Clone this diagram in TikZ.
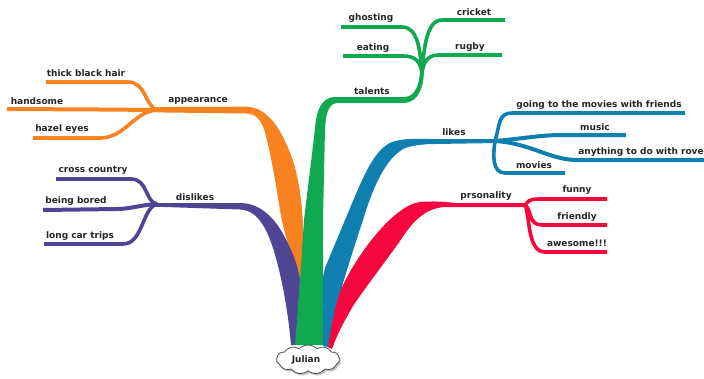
\documentclass[tikz,border=0pt]{standalone}
\usepackage{fontspec}
\setmainfont{DejaVu Sans}
\usetikzlibrary{shapes.symbols,shadows}
\definecolor{cOrange}{HTML}{F98220}
\definecolor{cPurple}{HTML}{4F4595}
\definecolor{cGreen}{HTML}{10A950}
\definecolor{cBlue}{HTML}{0F7FAF}
\definecolor{cRed}{HTML}{F5063F}
\tikzset{
  lbl/.style={inner sep=0pt,text=black!85,font=\fontsize{9}{11}\selectfont\bfseries,anchor=center},
  twig/.style={line width=#1,line cap=butt},
  twig/.default=3.6pt
}
\begin{document}
\begin{tikzpicture}[x=1pt,y=-1pt]
\useasboundingbox (0,0) rectangle (704,378);
\fill[white] (0,0) rectangle (704,378);
% junctions
\coordinate (jA) at (157,110);
\coordinate (jD) at (157,204);
\coordinate (jT) at (422,72);
\coordinate (jL) at (495,141);
\coordinate (jP) at (525,205);
% twig ends
\coordinate (tThick) at (46,82);
\coordinate (tHand) at (7,109);
\coordinate (tHazel) at (33,138);
\coordinate (tCross) at (56,179);
\coordinate (tBored) at (43,210);
\coordinate (tLong) at (44,244);
\coordinate (tGhost) at (341,27);
\coordinate (tEat) at (343,56);
\coordinate (tCricket) at (505,20);
\coordinate (tRugby) at (502,55);
\coordinate (tGoing) at (685,113);
\coordinate (tMusic) at (626,135);
\coordinate (tRove) at (704,160);
\coordinate (tMovies) at (565,173);
\coordinate (tFunny) at (607,199);
\coordinate (tFriend) at (607,225);
\coordinate (tAwe) at (607,252);
% appearance
\begin{scope}[draw=cOrange,cOrange]
\draw[twig] (jA) .. controls (145,106) and (146,82) .. (128,82) -- (tThick);
\draw[twig=4pt] (jA) -- (100,109.5) -- (tHand);
\draw[twig] (jA) .. controls (133,112) and (125,138) .. (100,138) -- (tHazel);
\fill (150,108.5) .. controls (153,107) and (157,107) .. (165,107) -- (246,106.7)
  .. controls (268,107) and (282,130) .. (292,158) .. controls (298,175) and (302,200) .. (303,225)
  -- (303,300) -- (297,300) -- (299,280) .. controls (292,255) and (284,235) .. (280,210)
  .. controls (276,185) and (272,160) .. (266,136)
  .. controls (262,120) and (256,113.5) .. (246,113.5) -- (165,112.5) .. controls (158,112.5) and (154,112) .. (150,111.5) -- cycle;
\end{scope}
% dislikes
\begin{scope}[draw=cPurple,cPurple]
\draw[twig] (jD) .. controls (145,202) and (148,179) .. (131,179) -- (tCross);
\draw[twig=4pt] (jD) .. controls (140,205) and (130,209) .. (117,209) -- (tBored);
\draw[twig] (jD) .. controls (142,208) and (143,244) .. (123,244) -- (tLong);
\fill (150,204) .. controls (153,203) and (157,203) .. (165,203) -- (240,203)
  .. controls (258,203) and (272,215) .. (282,232) .. controls (292,250) and (298,265) .. (300,280)
  -- (296,345) -- (291,345) .. controls (288,310) and (281,272) .. (272,245)
  .. controls (265,225) and (256,210) .. (240,209.5) -- (165,207) .. controls (158,207) and (154,207) .. (150,206) -- cycle;
\end{scope}
% talents
\begin{scope}[draw=cGreen,cGreen]
\draw[twig] (jT) .. controls (420,50) and (418,27) .. (402,27) -- (tGhost);
\draw[twig] (jT) .. controls (420,62) and (416,56) .. (403,56) -- (tEat);
\draw[twig] (jT) .. controls (424,50) and (426,20) .. (442,20) -- (tCricket);
\draw[twig] (jT) .. controls (424,62) and (427,55) .. (439,55) -- (tRugby);
\fill (420,68) .. controls (420,85) and (415,97) .. (404,97) -- (335,97)
  .. controls (322,97) and (316,110) .. (315,129) -- (304,220) -- (300,280) -- (295,345) -- (323,345)
  -- (323,220) -- (325,129) .. controls (326,110) and (330,103) .. (338,103) -- (404,103)
  .. controls (420,102) and (424,85) .. (424,68) -- cycle;
\end{scope}
% likes
\begin{scope}[draw=cBlue,cBlue]
\draw[twig] (jL) .. controls (500,125) and (498,113) .. (512,113) -- (tGoing);
\draw[twig=4pt] (jL) .. controls (520,139) and (540,135) .. (562,135) -- (tMusic);
\draw[twig=4pt] (jL) .. controls (530,143) and (550,160) .. (577,160) -- (tRove);
\draw[twig] (jL) .. controls (493,155) and (492,173) .. (505,173) -- (tMovies);
\fill (498,139) -- (430,139) .. controls (415,139) and (405,138) .. (392,142)
  .. controls (372,150) and (360,185) .. (345,220) -- (325,268) -- (323,277) -- (323,346) -- (328,347)
  -- (343,283) .. controls (350,260) and (357,238) .. (363,220) .. controls (372,190) and (385,158) .. (405,148)
  .. controls (415,145) and (425,144) .. (435,144) -- (498,143) -- cycle;
\end{scope}
% prsonality
\begin{scope}[draw=cRed,cRed]
\draw[twig] (jP) .. controls (528,202) and (528,199) .. (539,199) -- (tFunny);
\draw[twig] (jP) .. controls (532,210) and (528,225) .. (542,225) -- (tFriend);
\draw[twig] (jP) .. controls (530,215) and (527,252) .. (545,252) -- (tAwe);
\fill (527,203) -- (455,203) .. controls (445,201.5) and (432,201) .. (420,202)
  .. controls (395,205) and (360,250) .. (343,285) .. controls (335,302) and (332,325) .. (328,347)
  -- (332,349) .. controls (338,332) and (345,320) .. (353,306) .. controls (365,288) and (385,262) .. (400,241)
  .. controls (412,222) and (425,208) .. (445,207) -- (527,207) -- cycle;
\end{scope}
% central
\node[cloud,cloud puffs=11,cloud puff arc=90,aspect=2.4,draw=black!70,fill=white,line width=0.8pt,
  minimum width=63pt,minimum height=29pt,inner sep=0pt,
  drop shadow={shadow xshift=1.5pt,shadow yshift=-2pt,fill=black!35,opacity=0.7}] (root) at (308,359.5) {};
\node[lbl] (nRoot) at (306,360) {Julian};
% labels
\node[lbl] (n1) at (86,73) {thick black hair};
\node[lbl] (n2) at (37,101) {handsome};
\node[lbl] (n3) at (62,129) {hazel eyes};
\node[lbl] (n4) at (198,101) {appearance};
\node[lbl] (n5) at (93,170) {cross country};
\node[lbl] (n6) at (76,201) {being bored};
\node[lbl] (n7) at (80,236) {long car trips};
\node[lbl] (n8) at (195,197) {dislikes};
\node[lbl] (n9) at (371,18) {ghosting};
\node[lbl] (n10) at (373,48) {eating};
\node[lbl] (n11) at (372,91) {talents};
\node[lbl] (n12) at (474,12) {cricket};
\node[lbl] (n13) at (470,47) {rugby};
\node[lbl] (n14) at (454,132) {likes};
\node[lbl] (n15) at (599,105) {going to the movies with friends};
\node[lbl] (n16) at (595,127) {music};
\node[lbl] (n17) at (641,152) {anything to do with rove};
\node[lbl] (n18) at (534,165) {movies};
\node[lbl] (n19) at (486,196) {prsonality};
\node[lbl] (n20) at (577,190) {funny};
\node[lbl] (n21) at (577,217) {friendly};
\node[lbl] (n22) at (577,243) {awesome!!!};
\end{tikzpicture}
\end{document}
